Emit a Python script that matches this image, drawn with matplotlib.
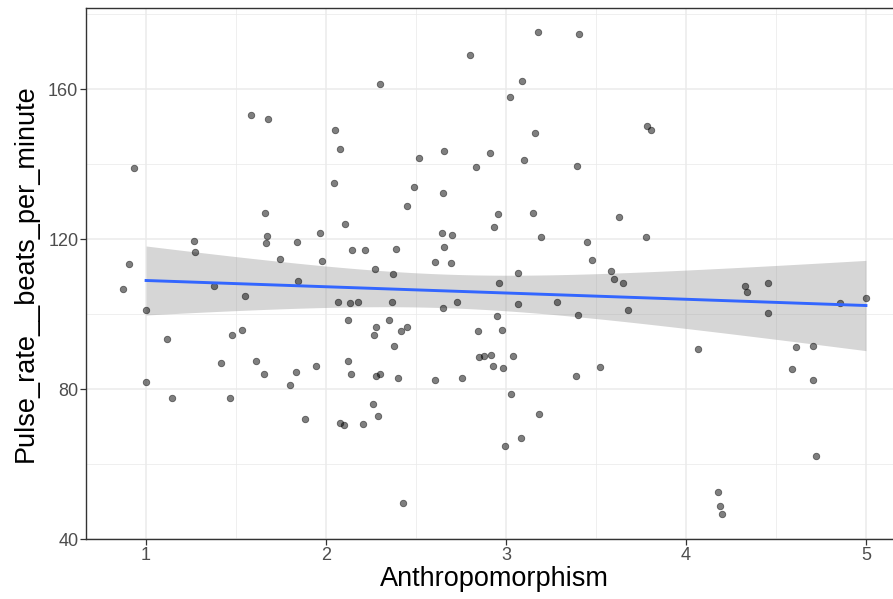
import numpy as np
import matplotlib
matplotlib.use("Agg")
import matplotlib.pyplot as plt
from matplotlib.ticker import MultipleLocator

plt.rcParams['font.family'] = ['Liberation Sans', 'DejaVu Sans']

anthropomorphism = [
    0.872, 0.906, 0.933, 1.000, 1.000, 1.117, 1.144, 1.267, 1.272, 1.378,
    1.417, 1.467, 1.478, 1.533, 1.550, 1.583, 1.611, 1.656, 1.661, 1.667,
    1.672, 1.678, 1.744, 1.800, 1.833, 1.839, 1.844, 1.883, 1.944, 1.967,
    1.978, 2.044, 2.050, 2.067, 2.078, 2.078, 2.100, 2.106, 2.122, 2.122,
    2.133, 2.139, 2.144, 2.178, 2.206, 2.217, 2.261, 2.267, 2.272, 2.278,
    2.278, 2.289, 2.300, 2.300, 2.350, 2.367, 2.372, 2.378, 2.389, 2.400,
    2.417, 2.428, 2.450, 2.450, 2.489, 2.517, 2.606, 2.606, 2.644, 2.650,
    2.650, 2.656, 2.656, 2.694, 2.700, 2.728, 2.756, 2.800, 2.833, 2.844,
    2.850, 2.878, 2.911, 2.917, 2.928, 2.933, 2.950, 2.956, 2.961, 2.978,
    2.983, 2.994, 3.022, 3.028, 3.039, 3.067, 3.067, 3.083, 3.089, 3.100,
    3.161, 3.150, 3.183, 3.178, 3.194, 3.283, 3.389, 3.394, 3.400, 3.406,
    3.450, 3.478, 3.522, 3.583, 3.600, 3.628, 3.650, 3.678, 3.778, 3.783,
    3.806, 4.067, 4.178, 4.189, 4.200, 4.328, 4.339, 4.456, 4.456, 4.589,
    4.611, 4.706, 4.706, 4.722, 4.856, 5.000,
]

pulse_rate = [
    106.7, 113.3, 138.9, 101.1, 81.9, 93.3, 77.6, 119.5, 116.5, 107.5,
    86.9, 77.6, 94.4, 95.7, 104.8, 153.1, 87.5, 84.0, 126.9, 118.9,
    120.8, 152.0, 114.7, 81.1, 84.5, 119.2, 108.8, 72.0, 86.1, 121.6,
    114.1, 134.9, 149.1, 103.2, 70.9, 144.0, 70.4, 124.0, 98.4, 87.5,
    102.9, 84.0, 117.1, 103.2, 70.7, 117.1, 76.0, 94.4, 112.0, 96.5,
    83.5, 72.8, 161.3, 84.0, 98.4, 103.2, 110.7, 91.5, 117.3, 82.9,
    95.5, 49.6, 96.5, 128.8, 133.9, 141.6, 113.9, 82.4, 121.6, 132.3,
    101.6, 143.5, 117.9, 113.6, 121.1, 103.2, 82.9, 169.1, 139.2, 95.5,
    88.5, 88.8, 142.9, 89.1, 86.1, 123.2, 99.5, 126.7, 108.3, 95.7,
    85.6, 64.8, 157.9, 78.7, 88.8, 110.9, 102.7, 66.9, 162.1, 141.1,
    148.3, 126.9, 73.3, 175.2, 120.5, 103.2, 83.5, 139.5, 99.7, 174.7,
    119.2, 114.4, 85.9, 111.5, 109.3, 125.9, 108.3, 101.1, 120.5, 150.1,
    149.1, 90.7, 52.5, 48.8, 46.7, 107.5, 105.9, 108.3, 100.3, 85.3,
    91.2, 91.5, 82.4, 62.1, 102.9, 104.3,
]

x_ticks = [1, 2, 3, 4, 5]
y_ticks = [40, 80, 120, 160]

x = np.asarray(anthropomorphism)
y = np.asarray(pulse_rate)

# The points are jittered horizontally; the scale itself runs from 1 to 5,
# so the fit uses the values clipped back onto that range.
x_fit = np.clip(x, 1, 5)

# Linear fit with 95% confidence band
n = len(x_fit)
slope, intercept = np.polyfit(x_fit, y, 1)
resid = y - (slope * x_fit + intercept)
s = np.sqrt(np.sum(resid ** 2) / (n - 2))
x_mean = x_fit.mean()
sxx = np.sum((x_fit - x_mean) ** 2)
t_crit = 1.978  # two-sided 95% t quantile, df = n - 2
grid_x = np.linspace(x_fit.min(), x_fit.max(), 200)
fit = slope * grid_x + intercept
se = s * np.sqrt(1.0 / n + (grid_x - x_mean) ** 2 / sxx)

fig = plt.figure(figsize=(8.93, 5.99), dpi=100)
ax = fig.add_axes([86 / 893, 1 - 539 / 599, (903 - 86) / 893, (539 - 8) / 599])

ax.set_xlim(0.666, 5.206)
ax.set_ylim(40.3, 181.6)

ax.set_xticks(x_ticks)
ax.set_yticks(y_ticks)
ax.xaxis.set_minor_locator(MultipleLocator(0.5))
ax.yaxis.set_minor_locator(MultipleLocator(20))
ax.grid(which='major', color='#EBEBEB', linewidth=1.1)
ax.grid(which='minor', color='#EBEBEB', linewidth=0.55)
ax.set_axisbelow(True)

ax.fill_between(grid_x, fit - t_crit * se, fit + t_crit * se,
                color='#999999', alpha=0.4, linewidth=0, zorder=2)
ax.scatter(x, y, s=22, color='#000000', alpha=0.5, linewidths=0.6,
           edgecolors='#000000', zorder=3)
ax.plot(grid_x, fit, color='#3366FF', linewidth=2.1, zorder=4)

for sp in ax.spines.values():
    sp.set_color('#333333')
    sp.set_linewidth(1.0)

ax.tick_params(which='major', length=4, width=0.9, color='#333333',
               labelsize=13, labelcolor='#4D4D4D')
ax.tick_params(axis='x', which='major', pad=1.5)
ax.tick_params(axis='y', which='major', pad=1.5)
ax.tick_params(which='minor', length=0)

ax.set_xlabel('Anthropomorphism', fontsize=19.5, color='black', labelpad=2)
ax.set_ylabel('Pulse_rate__beats_per_minute', fontsize=19.5, color='black',
              labelpad=7)

fig.savefig('out.png', dpi=100)
